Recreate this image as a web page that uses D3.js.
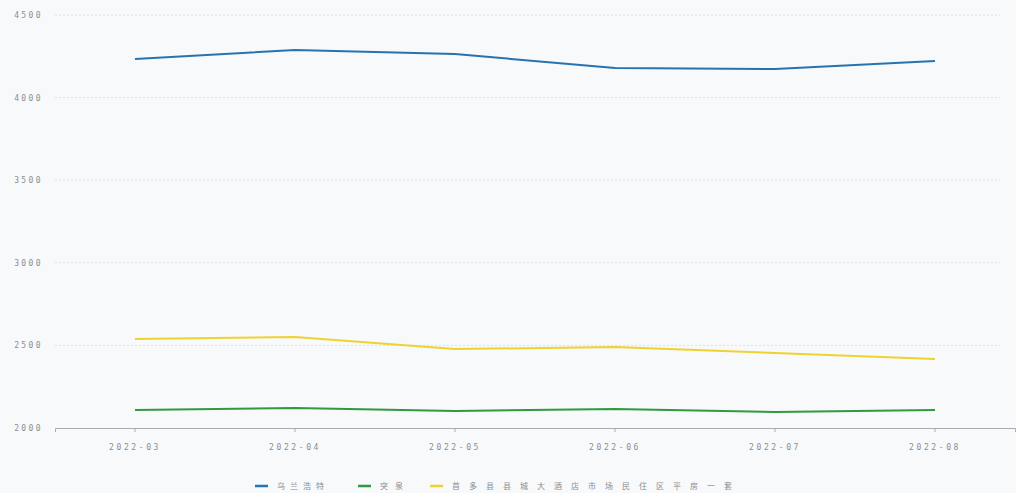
<!DOCTYPE html>
<html><head><meta charset="utf-8">
<script src="https://cdn.jsdelivr.net/npm/d3@7"></script>
<style>
html,body{margin:0;padding:0;background:#f8f9fb;}
svg{display:block;}
text{font-family:"DejaVu Sans Mono","Liberation Mono",monospace;}
</style></head>
<body>
<svg id="c" width="1016" height="493"></svg>
<script>
const categories = ["2022-03","2022-04","2022-05","2022-06","2022-07","2022-08"];
const seriesNames = ["乌兰浩特","突泉","首多县县城大酒店市场民住区平房一套"];
const seriesColors = ["#2673b3","#2f9a40","#efd232"];
const blueValues = [4234, 4288, 4264, 4179, 4173, 4222];
const greenValues = [2109, 2121, 2103, 2115, 2097, 2109];
const yellowValues = [2539, 2551, 2478, 2490, 2454, 2418];
const yTicks = [2000, 2500, 3000, 3500, 4000, 4500];

(function(){
const series = [blueValues, greenValues, yellowValues];
const svg = d3.select("#c");
const mL = 55, mR = 1015, mT = 15, mB = 428;

const x = d3.scaleBand().domain(categories).range([mL, mR]);
const y = d3.scaleLinear().domain([2000, 4500]).range([mB, mT]);

// gridlines
svg.append("g").selectAll("line").data(yTicks.slice(1)).join("line")
  .attr("x1", mL).attr("x2", 1000)
  .attr("y1", d => y(d)).attr("y2", d => y(d))
  .attr("stroke", "#dcdfe3").attr("stroke-width", 1).attr("stroke-dasharray", "2,2");

// y axis labels
const yAxis = d3.axisLeft(y).tickValues(yTicks).tickFormat(d3.format("d")).tickSize(0).tickPadding(0);
const gy = svg.append("g").attr("transform", `translate(${mL-12},0)`).call(yAxis);
gy.select(".domain").remove();
gy.selectAll("text").attr("fill", "#8a8d92").attr("font-size", 8).attr("letter-spacing", "2.4px")
  .attr("text-anchor", "end");

// x axis
const xAxis = d3.axisBottom(x).tickSizeOuter(0).tickSize(4).tickPadding(12);
const gx = svg.append("g").attr("transform", `translate(0,${mB})`).call(xAxis);
gx.select(".domain").attr("stroke", "#a9acb1");
gx.selectAll(".tick line").attr("stroke", "#a9acb1");
gx.selectAll("text").attr("fill", "#8a8d92").attr("font-size", 8).attr("letter-spacing", "2.6px");

// lines
const line = d3.line().x((d,i) => x(categories[i]) + x.bandwidth()/2).y(d => y(d));
series.forEach((vals, k) => {
  svg.append("path").datum(vals).attr("d", line)
    .attr("fill", "none").attr("stroke", seriesColors[k]).attr("stroke-width", 2);
});

// legend
const legendX = [255, 358, 430];
const legendSpacing = [5, 7, 9];
const lg = svg.append("g");
seriesNames.forEach((n, k) => {
  lg.append("line").attr("x1", legendX[k]).attr("x2", legendX[k] + 13)
    .attr("y1", 486).attr("y2", 486).attr("stroke", seriesColors[k]).attr("stroke-width", 2.5);
  lg.append("text").attr("x", legendX[k] + 22).attr("y", 489)
    .attr("font-size", 8).attr("fill", "#8a8d92").attr("letter-spacing", legendSpacing[k] + "px")
    .style("font-family", "'Noto Sans CJK SC',sans-serif")
    .text(n);
});
})();
</script>
</body></html>
